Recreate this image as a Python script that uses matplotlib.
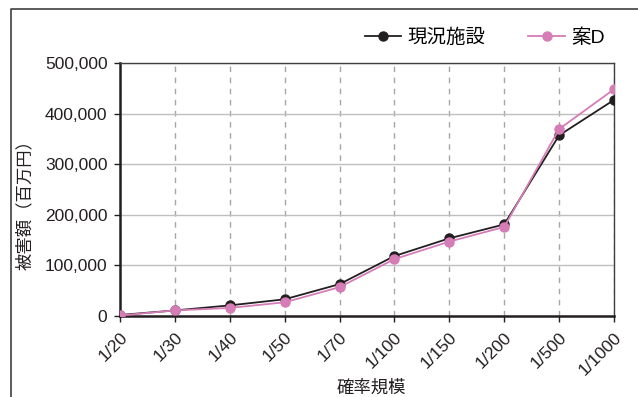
import matplotlib
matplotlib.use("Agg")
import matplotlib.pyplot as plt
from matplotlib.lines import Line2D
from matplotlib.ticker import FuncFormatter, MultipleLocator

plt.rcParams['font.family'] = ['Liberation Sans', 'Noto Sans CJK JP', 'DejaVu Sans']

categories = ['1/20', '1/30', '1/40', '1/50', '1/70', '1/100', '1/150', '1/200', '1/500', '1/1000']
current = [2000, 11000, 21000, 33000, 63000, 118500, 153500, 181000, 357000, 427000]
plan_d = [1000, 11000, 16000, 27000, 57000, 112500, 147000, 176000, 369500, 448000]
series_names = ['現況施設', '案D']
y_label = '被害額（百万円）'
x_label = '確率規模'

black = '#231F20'
pink = '#D67CB6'

fig = plt.figure(figsize=(6.38, 3.97), dpi=100)
ax = fig.add_axes([120 / 638, 1 - 316 / 397, (614 - 120) / 638, (316 - 63) / 397])

x = list(range(len(categories)))
ax.plot(x, current, color=black, lw=1.3, marker='o', ms=6.5, label=series_names[0], zorder=3)
ax.plot(x, plan_d, color=pink, lw=1.3, marker='o', ms=6.5, label=series_names[1], zorder=4)

ax.set_xlim(0, len(categories) - 1)
ax.set_ylim(0, 500000)
ax.yaxis.set_major_locator(MultipleLocator(100000))
ax.yaxis.set_major_formatter(FuncFormatter(lambda v, p: f'{int(v):,}'))
ax.set_xticks(x)
ax.set_xticklabels(categories, rotation=45, ha='right', rotation_mode='anchor')

ax.grid(axis='y', color='#BFBFBF', lw=1.0, ls='-')
ax.grid(axis='x', color='#A6A6A6', lw=1.0, ls=(0, (4, 4)))
ax.set_axisbelow(True)

for s in ['left', 'bottom']:
    ax.spines[s].set_linewidth(1.8)
    ax.spines[s].set_color(black)
for s in ['top', 'right']:
    ax.spines[s].set_linewidth(1.0)
    ax.spines[s].set_color('#404040')

ax.tick_params(axis='both', direction='out', length=4, width=1.0, color=black,
               labelsize=12.5, labelcolor=black)
ax.tick_params(axis='y', pad=5)
ax.tick_params(axis='x', pad=6)

# axis titles
fig.text(25 / 638, 1 - 200 / 397, y_label, rotation=90, ha='center', va='center',
         fontsize=12.5, color=black)
fig.text(371 / 638, 1 - 388 / 397, x_label, ha='center', va='center',
         fontsize=12.5, color=black)

ax.legend(ncol=2, frameon=False, fontsize=14, handlelength=1.9, columnspacing=2.2,
          handletextpad=0.3, loc='center right', bbox_to_anchor=(622 / 638, 1 - 38 / 397),
          bbox_transform=fig.transFigure)

# outer frame lines along the left and top edges
fig.add_artist(Line2D([10.5 / 638, 10.5 / 638, 1], [0, 1 - 9 / 397, 1 - 9 / 397],
                      transform=fig.transFigure, color='#404040', lw=1.2))

fig.savefig('out.png', dpi=100)
